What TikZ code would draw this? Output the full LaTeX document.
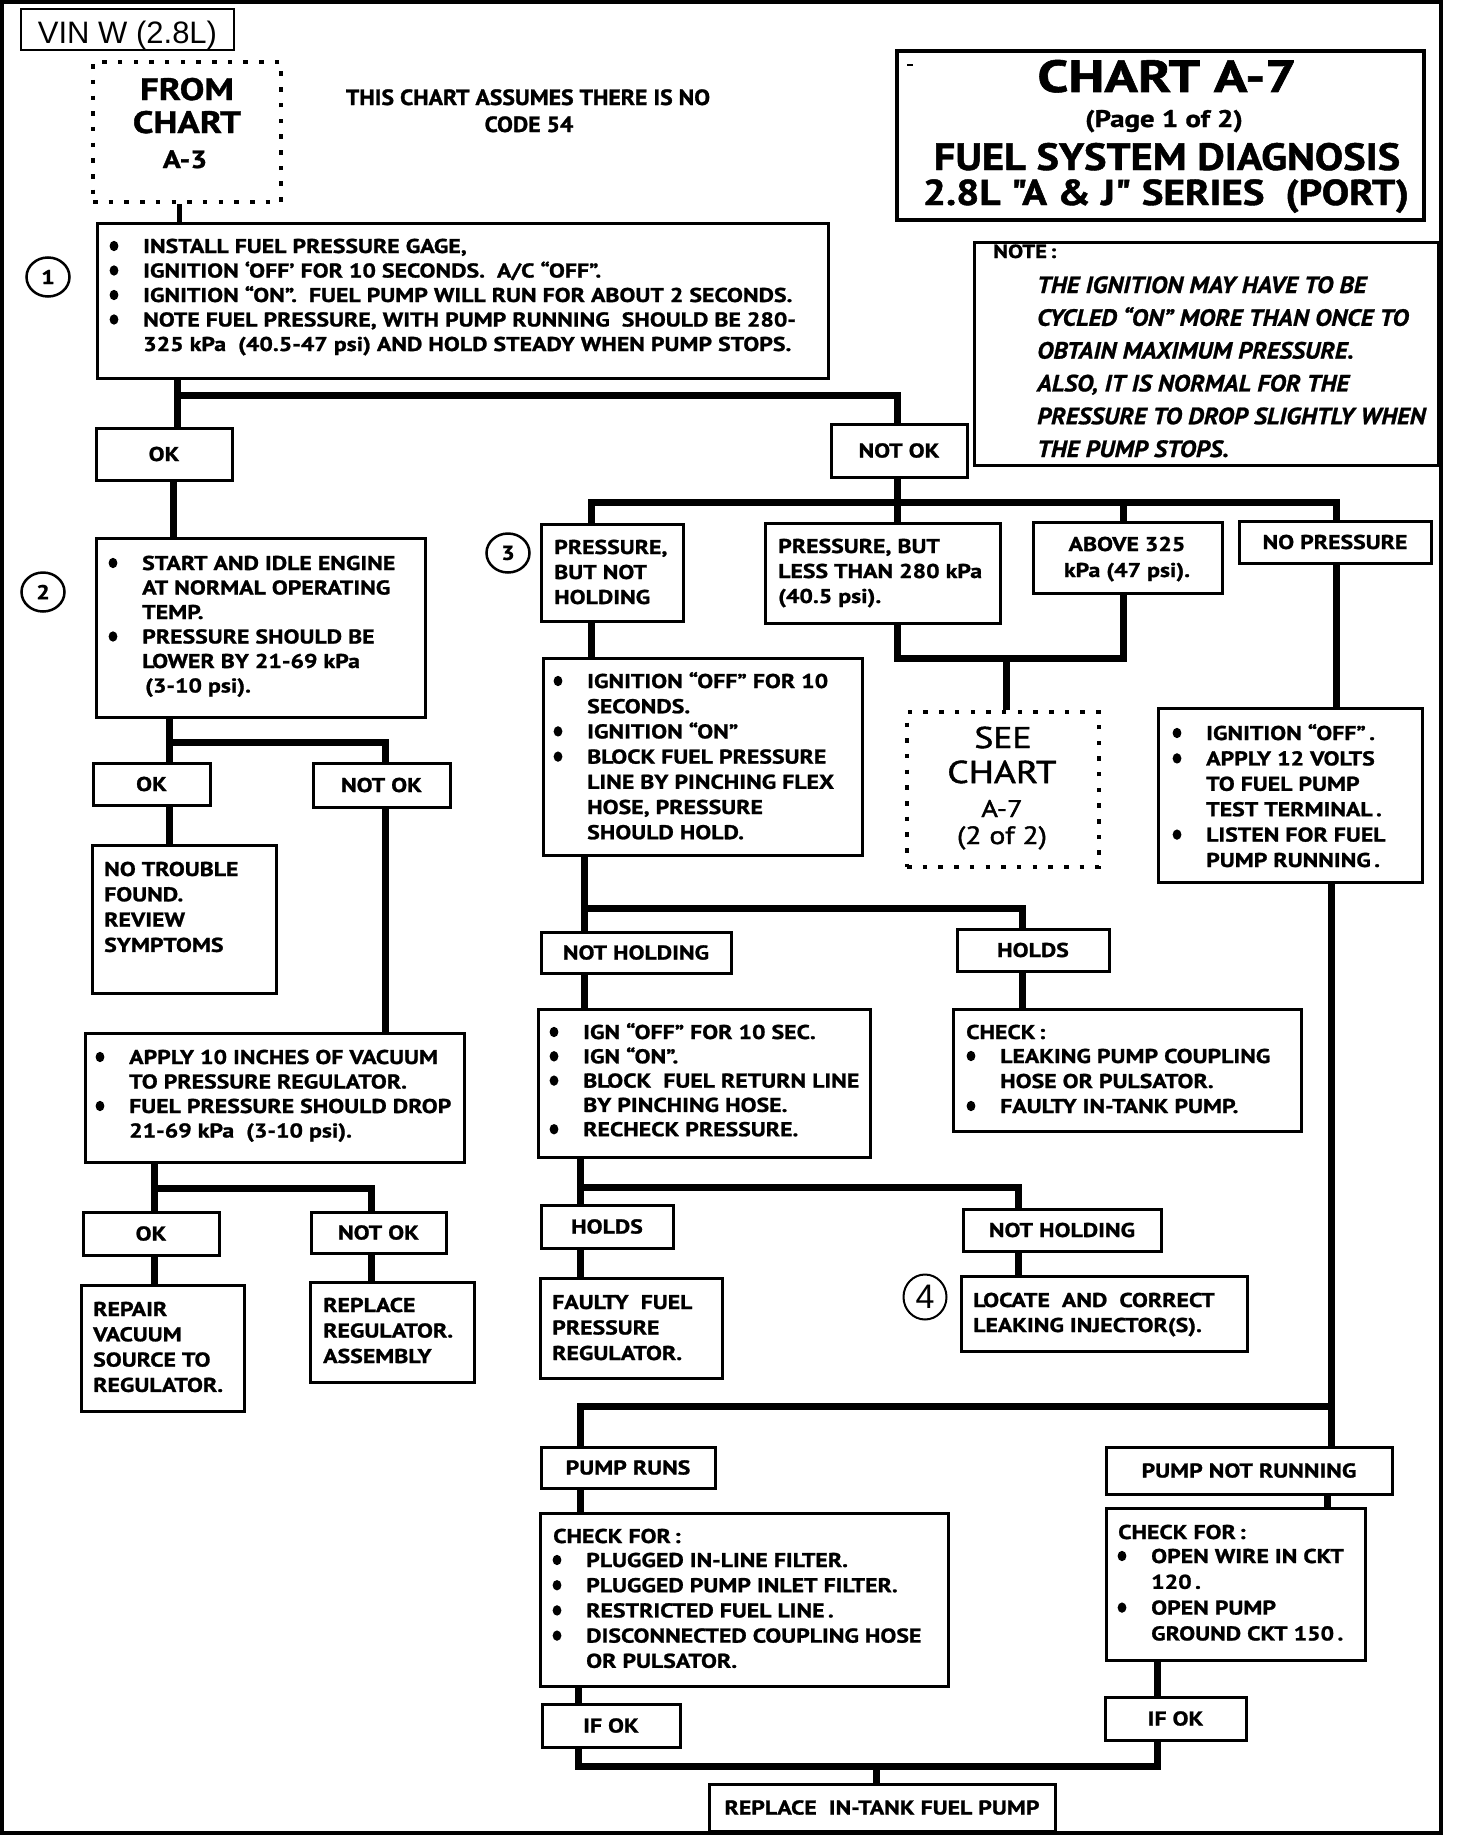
\documentclass[tikz,border=0pt]{standalone}
\usepackage{fontspec}
\usepackage{graphicx}
\setmainfont{PT Sans}[FakeStretch=1.19, BoldFeatures={FakeBold=1.2}]
\newfontfamily\ptn{PT Sans}[BoldFeatures={FakeBold=1.2}]
\newfontfamily\ptsee{PT Sans}[FakeStretch=1.19, FakeBold=1.6]
\newfontfamily\ptnote{PT Sans}[FakeStretch=1.07, BoldItalicFeatures={FakeBold=1.0}]
\newfontfamily\libsans{Liberation Sans}
\usetikzlibrary{fit,shapes.geometric}

\newcommand{\fbody}{\fontsize{20}{24}\selectfont\bfseries}
\newcommand{\fnote}{\ptnote\fontsize{23.5}{28}\selectfont\bfseries\itshape}

\tikzset{
 box/.style={draw, line width=3pt, inner sep=0pt},
 dotbox/.style={draw, line width=4.5pt, dash pattern=on 4.5pt off 11.2pt, inner sep=0pt},
 conn/.style={line width=7pt, line join=miter},
 tx/.style={inner sep=0pt, font=\fbody},
 lbl/.style={inner sep=0pt, font=\fbody, text height=14pt, text depth=0pt},
 num/.style={draw, ellipse, line width=2.5pt, inner sep=0pt, minimum width=43pt, minimum height=39pt, font=\fbody},
}

\newcommand{\tl}[6][]{%
 \foreach \f/\s [count=\i from 0] in {#6}{%
   \node[tx,#1,anchor=base west] (#2-\i) at ({#3},{#4+\i*#5}) {\s};
   \ifnum\f=1 \fill ({#3-29},{#4+\i*#5-7}) ellipse [x radius=4.4, y radius=5.2];\fi
 }}
\newcommand{\tlc}[6][]{%
 \foreach \s [count=\i from 0] in {#6}{%
   \node[tx,#1,anchor=base] (#2-\i) at ({#3},{#4+\i*#5}) {\s};
 }}
\newcommand{\lbox}[4]{%
 \node[box, fit={#2 #3}] (#1) {};
 \node[lbl] (#1-t) at (#1.center) {#4};}

\begin{document}
\begin{tikzpicture}[x=1pt,y=-1pt]
\useasboundingbox (0,0) rectangle (1456,1836);
\draw[line width=4pt] (2,2) rectangle (1441,1833);

% ---------- header ----------
\node[draw, line width=2.5pt, inner sep=0pt, fit={(21,9) (234,50)}] (vin) {};
\node[inner sep=0pt, anchor=base, font=\libsans\fontsize{31}{31}\selectfont] (vint) at (127.5,44) {VIN W (2.8L)};

\node[dotbox, fit={(93,62) (281,202)}] (from) {};
\node[tx, anchor=base, font=\bfseries\fontsize{31}{31}\selectfont] (from-1) at (187,100) {FROM};
\node[tx, anchor=base, font=\bfseries\fontsize{31}{31}\selectfont] (from-2) at (187,133) {CHART};
\node[tx, anchor=base, font=\bfseries\fontsize{25}{25}\selectfont] (from-3) at (185,168) {A-3};

\node[tx, anchor=base, font=\ptn\bfseries\fontsize{22}{22}\selectfont] (assume-1) at (528,105) {\scalebox{1.076}[1]{THIS CHART ASSUMES THERE IS NO}};
\node[tx, anchor=base, font=\ptn\bfseries\fontsize{22}{22}\selectfont] (assume-2) at (529,132) {\scalebox{1.076}[1]{CODE 54}};

\node[draw, line width=4pt, inner sep=0pt, fit={(897,51) (1424,220)}] (title) {};
\draw[line width=2pt] (907,65) -- (913,65);
\node[tx, anchor=base, font=\ptn\bfseries\fontsize{45}{45}\selectfont] (title-1) at (1167,92) {\scalebox{1.23}[1]{CHART A-7}};
\node[tx, anchor=base, font=\ptn\bfseries\fontsize{24}{24}\selectfont] (title-2) at (1164,127) {\scalebox{1.2}[1]{(Page 1 of 2)}};
\node[tx, anchor=base, font=\ptn\bfseries\fontsize{38}{38}\selectfont] (title-3) at (1167,170) {\scalebox{1.115}[1]{FUEL SYSTEM DIAGNOSIS}};
\node[tx, anchor=base, font=\ptn\bfseries\fontsize{36}{36}\selectfont] (title-4) at (1166,205) {\scalebox{1.14}[1]{2.8L "A \& J" SERIES~ (PORT)}};

\node[draw, line width=3pt, inner sep=0pt, fit={(974,242) (1438,465)}] (note) {};
\node[tx, anchor=base west, font=\bfseries\fontsize{19}{19}\selectfont] (note-h) at (993,258) {NOTE\,:};
\tl[font=\fnote]{notel}{1037}{293}{32.8}{0/{THE IGNITION MAY HAVE TO BE},0/{CYCLED “ON” MORE THAN ONCE TO},0/{OBTAIN MAXIMUM PRESSURE.},0/{ALSO, IT IS NORMAL FOR THE},0/{PRESSURE TO DROP SLIGHTLY WHEN},0/{THE PUMP STOPS.}}

% ---------- circles ----------
\node[num] (c1) at (48,277) {1};
\node[num] (c2) at (43,592) {2};
\node[num] (c3) at (508,553) {3};
\node[num, line width=2pt, minimum height=45pt, font=\libsans\fontsize{34}{34}\selectfont] (c4) at (925,1297) {4};

% ---------- boxes ----------
\node[box, fit={(97,223) (828,378)}] (b1) {};
\tl{b1t}{143}{253}{24.5}{1/{INSTALL FUEL PRESSURE GAGE,},1/{IGNITION ‘OFF’ FOR 10 SECONDS.~~A/C “OFF”.},1/{IGNITION “ON”.~~FUEL PUMP WILL RUN FOR ABOUT 2 SECONDS.},1/{NOTE FUEL PRESSURE, WITH PUMP RUNNING~~SHOULD BE 280-},0/{325 kPa~~(40.5-47 psi) AND HOLD STEADY WHEN PUMP STOPS.}}

\lbox{ok1}{(96,428)}{(232,480)}{OK}
\lbox{nok1}{(831,424)}{(967,477)}{NOT OK}

\node[box, fit={(96,538) (425,717)}] (b2) {};
\tl{b2t}{142}{570}{24.5}{1/{START AND IDLE ENGINE},0/{AT NORMAL OPERATING},0/{TEMP.},1/{PRESSURE SHOULD BE},0/{LOWER BY 21-69 kPa},0/{\hspace{3pt}(3-10 psi).}}

\lbox{ok2}{(93,763)}{(210,805)}{OK}
\lbox{nok2}{(313,763)}{(450,807)}{NOT OK}

\node[box, fit={(92,845) (276,993)}] (ntf) {};
\tl{ntft}{104}{876}{25.3}{0/{NO TROUBLE},0/{FOUND.},0/{REVIEW},0/{SYMPTOMS}}

\node[box, fit={(85,1033) (464,1162)}] (apply) {};
\tl{applyt}{129}{1064}{24.5}{1/{APPLY 10 INCHES OF VACUUM},0/{TO PRESSURE REGULATOR.},1/{FUEL PRESSURE SHOULD DROP},0/{21-69 kPa~~(3-10 psi).}}

\lbox{ok3}{(83,1212)}{(219,1255)}{OK}
\lbox{nok3}{(311,1212)}{(446,1253)}{NOT OK}

\node[box, fit={(81,1285) (244,1411)}] (repair) {};
\tl{repairt}{93}{1316}{25.3}{0/{REPAIR},0/{VACUUM},0/{SOURCE TO},0/{REGULATOR.}}

\node[box, fit={(310,1282) (474,1382)}] (replreg) {};
\tl{replregt}{323}{1312}{25.5}{0/{REPLACE},0/{REGULATOR.},0/{ASSEMBLY}}

\node[box, fit={(541,524) (683,621)}] (pbnh) {};
\tl{pbnht}{554}{554}{25}{0/{PRESSURE,},0/{BUT NOT},0/{HOLDING}}

\node[box, fit={(765,523) (1000,623)}] (pbl) {};
\tl{pblt}{778}{553}{25}{0/{PRESSURE, BUT},0/{LESS THAN 280 kPa},0/{(40.5 psi).}}

\node[box, fit={(1033,522) (1222,593)}] (above) {};
\tlc{abovet}{1127}{551}{26}{{ABOVE 325},{kPa (47 psi).}}

\lbox{nopr}{(1239,521)}{(1431,563)}{NO PRESSURE}

\node[box, fit={(543,658) (862,855)}] (ign1) {};
\tl{ign1t}{587}{688}{25.2}{1/{IGNITION “OFF” FOR 10},0/{SECONDS.},1/{IGNITION “ON”},1/{BLOCK FUEL PRESSURE},0/{LINE BY PINCHING FLEX},0/{HOSE, PRESSURE},0/{SHOULD HOLD.}}

\node[dotbox, fit={(907,712) (1099,867)}] (see) {};
\node[tx, anchor=base, font=\ptsee\fontsize{30}{30}\selectfont] (see-1) at (1003,748) {SEE};
\node[tx, anchor=base, font=\ptsee\fontsize{31.5}{31.5}\selectfont] (see-2) at (1002,783) {CHART};
\node[tx, anchor=base, font=\ptsee\fontsize{24}{24}\selectfont] (see-3) at (1002,817) {A-7};
\node[tx, anchor=base, font=\ptsee\fontsize{25}{25}\selectfont] (see-4) at (1002,844) {(2 of 2)};

\node[box, fit={(1158,708) (1422,882)}] (ign2) {};
\tl{ign2t}{1206}{740}{25.4}{1/{IGNITION “OFF”\,.},1/{APPLY 12 VOLTS},0/{TO FUEL PUMP},0/{TEST TERMINAL\,.},1/{LISTEN FOR FUEL},0/{PUMP RUNNING\,.}}

\lbox{nh1}{(541,932)}{(731,973)}{NOT HOLDING}
\lbox{holds1}{(957,929)}{(1109,971)}{HOLDS}

\node[box, fit={(538,1009) (870,1157)}] (ign3) {};
\tl{ign3t}{583}{1039}{24.3}{1/{IGN “OFF” FOR 10 SEC.},1/{IGN “ON”.},1/{BLOCK~ FUEL RETURN LINE},0/{BY PINCHING HOSE.},1/{RECHECK PRESSURE.}}

\node[box, fit={(953,1009) (1301,1131)}] (check1) {};
\node[tx, anchor=base west] (check1-h) at (966,1039) {CHECK\,:};
\tl{check1t}{1000}{1063}{25}{1/{LEAKING PUMP COUPLING},0/{HOSE OR PULSATOR.},1/{FAULTY IN-TANK PUMP.}}

\lbox{holds2}{(541,1205)}{(673,1248)}{HOLDS}
\lbox{nh2}{(963,1209)}{(1161,1251)}{NOT HOLDING}

\node[box, fit={(540,1278) (722,1378)}] (faulty) {};
\tl{faultyt}{552}{1309}{25.5}{0/{FAULTY~ FUEL},0/{PRESSURE},0/{REGULATOR.}}

\node[box, fit={(961,1276) (1247,1351)}] (locate) {};
\tl{locatet}{973}{1307}{25}{0/{LOCATE~ AND~ CORRECT},0/{LEAKING INJECTOR(S).}}

\lbox{pruns}{(541,1447)}{(715,1488)}{PUMP RUNS}
\lbox{pnr}{(1106,1447)}{(1392,1494)}{PUMP NOT RUNNING}

\node[box, fit={(540,1513) (948,1686)}] (chk2) {};
\node[tx, anchor=base west] (chk2-h) at (553,1543) {CHECK FOR\,:};
\tl{chk2t}{586}{1567}{25.2}{1/{PLUGGED IN-LINE FILTER.},1/{PLUGGED PUMP INLET FILTER.},1/{RESTRICTED FUEL LINE\,.},1/{DISCONNECTED COUPLING HOSE},0/{OR PULSATOR.}}

\node[box, fit={(1106,1508) (1365,1660)}] (chk3) {};
\node[tx, anchor=base west] (chk3-h) at (1118,1539) {CHECK FOR\,:};
\tl{chk3t}{1151}{1563}{25.8}{1/{OPEN WIRE IN CKT},0/{120\,.},1/{OPEN PUMP},0/{GROUND CKT 150\,.}}

\lbox{ifok1}{(542,1704)}{(680,1747)}{IF OK}
\lbox{ifok2}{(1105,1697)}{(1246,1740)}{IF OK}
\lbox{repl}{(709,1784)}{(1055,1831)}{REPLACE~ IN-TANK FUEL PUMP}

% ---------- junction coordinates ----------
\coordinate (xfrom) at (179,0);
\coordinate (jA) at (177,395);  \coordinate (jAr) at (897,395);
\coordinate (xok1) at (173,0);
\coordinate (jB) at (591,502);  \coordinate (jBr) at (1336,502);
\coordinate (xab) at (1123,0);
\coordinate (jC) at (897,658);  \coordinate (jCr) at (1123,658); \coordinate (jCm) at (1006,658);
\coordinate (jD) at (584,908);  \coordinate (jDr) at (1022,908);
\coordinate (jE) at (580,1187); \coordinate (jEr) at (1018,1187);
\coordinate (jF) at (1331,1406); \coordinate (jFl) at (580,1406);
\coordinate (xp) at (1327,0);
\coordinate (jG) at (578,1766); \coordinate (jGr) at (1157,1766); \coordinate (jGm) at (876,1766);
\coordinate (jH) at (169,742);  \coordinate (jHr) at (385,742);
\coordinate (jI) at (154,1188); \coordinate (jIr) at (371,1188);

% ---------- connectors ----------
\draw[conn, line width=5pt] (from.south -| xfrom) -- (b1.north -| xfrom);
\draw[conn] (b1.south -| jA) -- (ok1.north -| jA);
\draw[conn] (jA) -- (jAr) -- (nok1.north -| jAr);
\draw[conn] (ok1.south -| xok1) -- (b2.north -| xok1);
\draw[conn] (b2.south -| jH) -- (ok2.north -| jH);
\draw[conn] (jH) -- (jHr) -- (nok2.north -| jHr);
\draw[conn] (ok2.south -| jH) -- (ntf.north -| jH);
\draw[conn] (nok2.south -| jHr) -- (apply.north -| jHr);
\draw[conn] (apply.south -| jI) -- (ok3.north -| jI);
\draw[conn] (jI) -- (jIr) -- (nok3.north -| jIr);
\draw[conn] (ok3.south -| jI) -- (repair.north -| jI);
\draw[conn] (nok3.south -| jIr) -- (replreg.north -| jIr);

\draw[conn] (nok1.south -| jAr) -- (pbl.north -| jAr);
\draw[conn] (pbnh.north -| jB) -- (jB) -- (jBr) -- (nopr.north -| jBr);
\draw[conn] (jB -| xab) -- (above.north -| xab);
\draw[conn] (pbl.south -| jC) -- (jC) -- (jCr) -- (above.south -| jCr);
\draw[conn] (jCm) -- (see.north -| jCm);
\draw[conn] (pbnh.south -| jB) -- (ign1.north -| jB);
\draw[conn] (ign1.south -| jD) -- (nh1.north -| jD);
\draw[conn] (jD) -- (jDr) -- (holds1.north -| jDr);
\draw[conn] (holds1.south -| jDr) -- (check1.north -| jDr);
\draw[conn] (nh1.south -| jD) -- (ign3.north -| jD);
\draw[conn] (ign3.south -| jE) -- (holds2.north -| jE);
\draw[conn] (jE) -- (jEr) -- (nh2.north -| jEr);
\draw[conn] (holds2.south -| jE) -- (faulty.north -| jE);
\draw[conn] (nh2.south -| jEr) -- (locate.north -| jEr);

\draw[conn] (nopr.south -| jBr) -- (ign2.north -| jBr);
\draw[conn] (ign2.south -| jF) -- (pnr.north -| jF);
\draw[conn] (jF) -- (jFl) -- (pruns.north -| jFl);
\draw[conn] (pruns.south -| jFl) -- (chk2.north -| jFl);
\draw[conn] (chk2.south -| jG) -- (ifok1.north -| jG);
\draw[conn] (ifok1.south -| jG) -- (jG) -- (jGr) -- (ifok2.south -| jGr);
\draw[conn] (jGm) -- (repl.north -| jGm);
\draw[conn] (pnr.south -| xp) -- (chk3.north -| xp);
\draw[conn] (chk3.south -| jGr) -- (ifok2.north -| jGr);
\end{tikzpicture}
\end{document}
